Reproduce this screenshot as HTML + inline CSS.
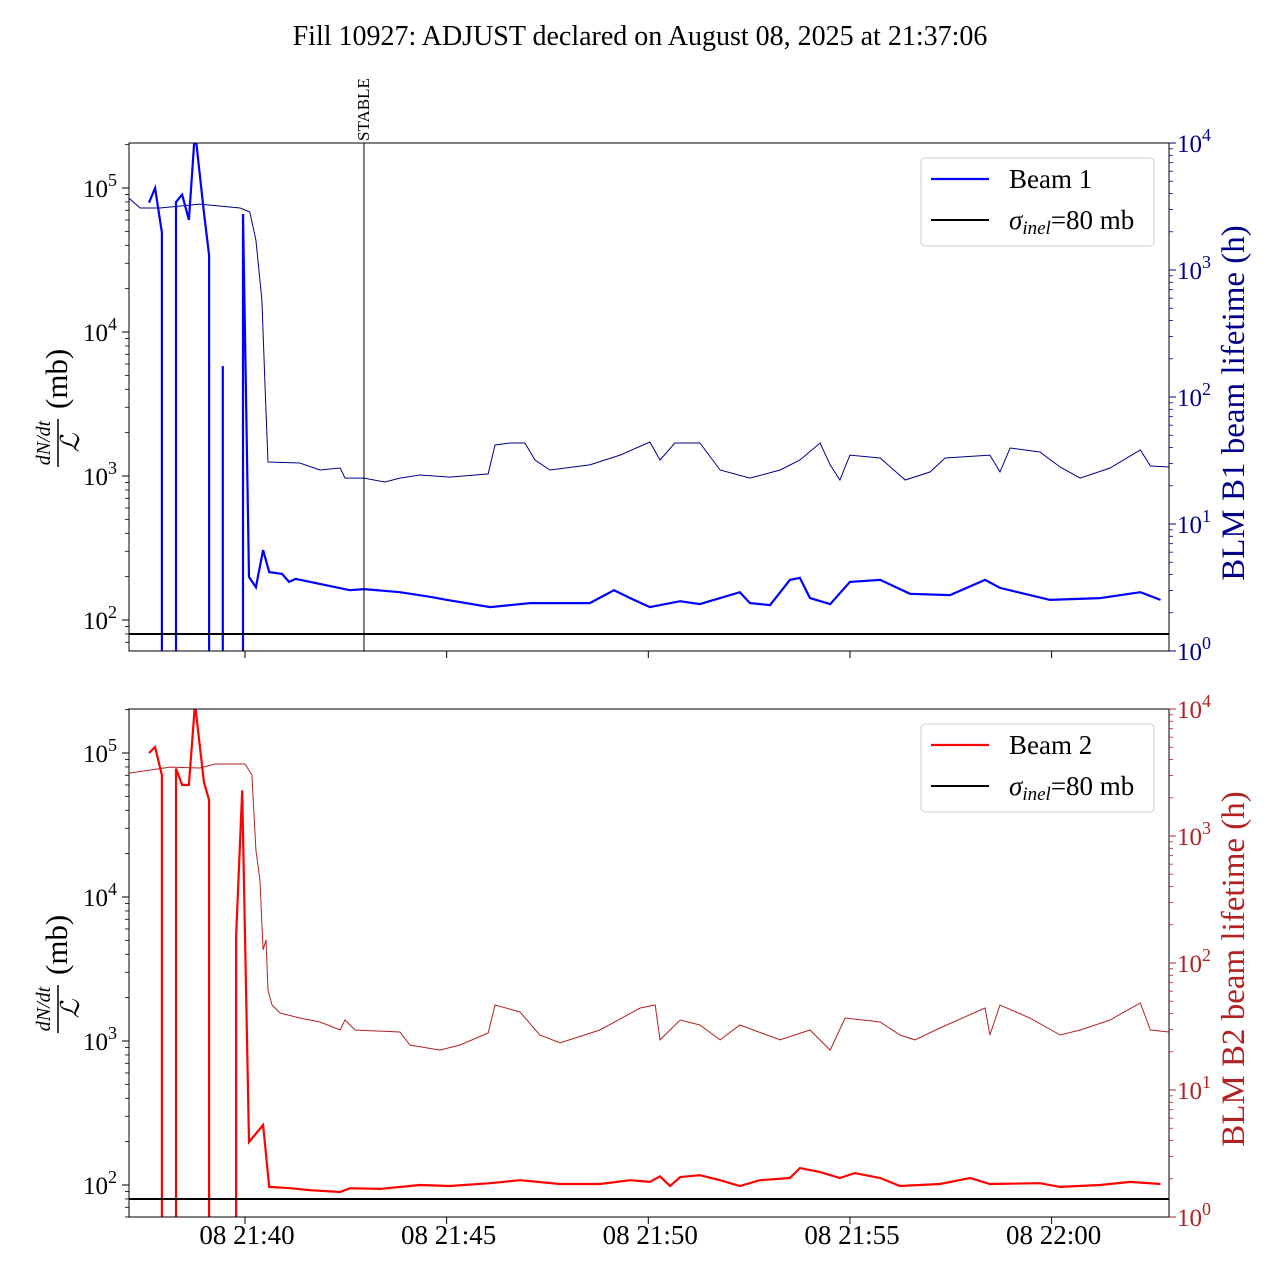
<!DOCTYPE html>
<html><head><meta charset="utf-8"><style>
body{margin:0;background:#fff}
svg{font-family:"Liberation Serif",serif}
</style></head><body>
<svg id="chart" width="1280" height="1280" viewBox="0 0 1280 1280" xmlns="http://www.w3.org/2000/svg">
<rect width="1280" height="1280" fill="#fff"/>
<text x="640" y="45" font-size="28" text-anchor="middle">Fill 10927: ADJUST declared on August 08, 2025 at 21:37:06</text>
<g id="plots"></g>
</svg>
<script>
// time in minutes after 21:37:00
const xTickMinutes = [3, 8, 13, 18, 23];
const xTickLabels = ["08 21:40", "08 21:45", "08 21:50", "08 21:55", "08 22:00"];
const stableMinute = 5.95;
const sigmaInel = 80;

const b1Times = [0.62,0.77,0.94,0.94,1.29,1.29,1.44,1.61,1.76,1.98,2.11,2.11,2.45,2.45,2.45,2.95,2.95,3.10,3.27,3.45,3.60,3.92,4.09,4.26,5.60,5.95,6.84,7.59,8.01,9.08,10.07,11.55,12.15,12.55,13.04,13.79,14.28,14.78,15.27,15.52,16.02,16.51,16.76,17.01,17.51,18.00,18.75,19.49,20.48,21.35,21.72,22.96,24.20,25.20,25.70];
const b1Values = [7.9e4,1.0e5,4.9e4,1,1,8e4,9e4,6e4,2.5e5,6.8e4,3.4e4,1,1,5.8e3,1,1,6.6e4,199,169,306,215,209,184,193,161,164,156,145,138,123,131,131,161,142,123,135,129,142,156,131,127,190,196,142,129,184,190,152,149,190,167,138,142,156,138];

const b1LifeTimes = [0.12,0.40,0.89,1.88,2.88,3.12,3.27,3.42,3.50,3.57,4.36,4.86,5.36,5.48,5.95,6.47,6.84,7.34,8.08,9.03,9.20,9.57,9.94,10.19,10.56,11.55,12.30,13.04,13.29,13.66,14.28,14.78,15.52,16.27,16.76,17.26,17.51,17.75,18.00,18.75,19.37,19.99,20.36,21.47,21.72,21.97,22.71,23.21,23.71,24.45,25.20,25.45,25.91];
const b1LifeValues = [3690,3080,3080,3300,3080,2860,1720,580,113,30.8,30.2,26.6,27.6,23,23,21.4,23,24.3,23.4,24.8,41.9,43.4,43.4,31.9,26.6,29.2,34.9,44.2,31.9,43.4,43.4,26.6,23,26.6,31.9,43.4,29.2,22.2,34.9,33.1,22.2,25.7,33.1,34.9,25.7,39.7,36.9,28.1,23,27.6,38.3,28.6,28.1];

const b2Times = [0.62,0.77,0.94,0.94,1.29,1.29,1.44,1.61,1.76,1.98,2.11,2.11,2.78,2.78,2.93,3.10,3.45,3.60,4.12,4.61,5.36,5.60,6.35,7.34,8.08,9.08,9.82,10.81,11.80,12.55,13.04,13.29,13.54,13.79,14.28,14.78,15.27,15.77,16.51,16.76,17.26,17.75,18.12,18.75,19.24,20.23,20.98,21.47,22.71,23.21,24.20,24.95,25.70];
const b2Values = [1e5,1.1e5,7e4,1,1,7.8e4,6e4,6e4,2.2e5,6.3e4,4.7e4,1,1,5.3e3,5.5e4,199,261,97,95,92,89.4,95,94,100,98.4,103,108,101.6,101.6,108,105,115,98.4,113.6,117,108,98.4,108,111.8,131,123,111.8,121,111.8,98.4,101.6,111.8,101.6,103,97,100,105,101.6];

const b2LifeTimes = [0.12,1.14,1.88,2.26,3.00,3.17,3.27,3.37,3.45,3.52,3.57,3.67,3.87,4.36,4.86,5.36,5.48,5.73,6.84,7.09,7.83,8.33,9.03,9.20,9.82,10.31,10.81,11.80,12.80,13.17,13.29,13.79,14.28,14.78,15.27,16.27,17.01,17.51,17.88,18.75,19.24,19.61,20.23,21.35,21.47,21.72,22.46,23.21,23.71,24.45,25.20,25.45,25.91];
const b2LifeValues = [3130,3490,3430,3690,3690,3020,776,451,127,152,61,46.7,40.4,36.9,34.3,29.7,35.6,29.7,28.6,22.6,20.6,22.6,28.1,46.7,41.1,27.1,23.5,29.7,44.2,46.7,24.8,35.6,32.5,24.8,32.5,24.8,29.7,20.6,36.9,34.3,27.1,24.8,30.8,44.2,27.1,46.7,36.9,27.1,29.7,35.6,48.4,29.7,28.6];

const NS = "http://www.w3.org/2000/svg";
const root = document.getElementById('plots');
function mk(tag, attrs, parent){const e=document.createElementNS(NS,tag);for(const k in attrs)e.setAttribute(k,attrs[k]);(parent||root).appendChild(e);return e;}

const X0=129, X1=1169;
function xs(t){return 245+(t-3)*40.33;}

function panel(cfg){
  const top=cfg.top, bot=top+508;
  const yL = v => cfg.y1e2 - (Math.log10(v)-2)*144;
  const yR = v => bot - Math.log10(v)*127;
  const g = mk('g',{});
  
  
  const cid='clip'+cfg.id;
  const cp=mk('clipPath',{id:cid},g); mk('rect',{x:X0,y:top,width:X1-X0,height:508},cp);
  let d=''; cfg.lt.forEach((t,i)=>{d+=(i?'L':'M')+xs(t).toFixed(1)+','+yR(cfg.lv[i]).toFixed(1);});
  const lp=mk('path',{d,fill:'none',stroke:cfg.lifeColor,'stroke-width':1,'clip-path':`url(#${cid})`},g);
  
  
  d=''; cfg.t.forEach((t,i)=>{d+=(i?'L':'M')+xs(t).toFixed(1)+','+Math.min(yL(cfg.v[i]),bot+5).toFixed(1);});
  const mp=mk('path',{d,fill:'none',stroke:cfg.color,'stroke-width':2.2,'clip-path':`url(#${cid})`},g);
  
  
  const sl=mk('line',{x1:X0,x2:X1,y1:yL(sigmaInel),y2:yL(sigmaInel),stroke:'#000','stroke-width':2},g);
  
  
  if(cfg.stable){
    const sx=xs(stableMinute);
    const s=mk('line',{x1:sx,x2:sx,y1:top,y2:bot,stroke:'#000','stroke-width':1},g);
    
    
    const st=mk('text',{x:0,y:0,'font-size':17,transform:`translate(${sx+5},${top-2}) rotate(-90)`},g);
    st.textContent='STABLE';
    
    
  }
  mk('rect',{x:X0,y:top,width:X1-X0,height:508,fill:'none',stroke:'#000','stroke-width':1},g);
  for(let e=1;e<=5;e++){for(let m=1;m<10;m++){const v=m*Math.pow(10,e);const y=yL(v);if(y<top-0.5||y>bot+0.5)continue;
    mk('line',{x1:X0,x2:X0-(m==1?7:4),y1:y,y2:y,stroke:'#000','stroke-width':m==1?1:0.8},g);
    if(m==1){const tx=mk('text',{x:X0-12,y:y+9,'font-size':25,'text-anchor':'end'},g);
      tx.innerHTML='10<tspan dy="-11" font-size="18">'+e+'</tspan>';
      }}}
  for(let e=0;e<=4;e++){for(let m=1;m<10;m++){const v=m*Math.pow(10,e);const y=yR(v);if(y<top-0.5)continue;
    mk('line',{x1:X1,x2:X1+(m==1?7:4),y1:y,y2:y,stroke:cfg.lifeColor,'stroke-width':m==1?1:0.8},g);
    if(m==1){const tx=mk('text',{x:X1+8,y:y+9,'font-size':25,fill:cfg.lifeColor},g);
      tx.innerHTML='10<tspan dy="-11" font-size="18">'+e+'</tspan>';
      }}}
  xTickMinutes.forEach((t,i)=>{const x=xs(t);mk('line',{x1:x,x2:x,y1:bot,y2:bot+7,stroke:'#000'},g);
    if(cfg.xlabels){const tx=mk('text',{x:x+2,y:bot+27,'font-size':27,'text-anchor':'middle'},g);tx.textContent=xTickLabels[i];
      }});
  const cy=top+254;
  const yl=mk('g',{transform:`translate(62,${cy+80}) rotate(-90)`},g);
  
  const n=mk('text',{x:34,y:-12,'font-size':20,'font-style':'italic','text-anchor':'middle'},yl);n.textContent='dN/dt';
  mk('line',{x1:10,x2:58,y1:-4,y2:-4,stroke:'#000','stroke-width':1.5},yl);
  const dn=mk('text',{x:34,y:17,'font-size':26,'font-style':'italic','text-anchor':'middle','font-family':'DejaVu Serif, serif'},yl);dn.textContent='ℒ';
  const mb=mk('text',{x:68,y:5,'font-size':31},yl);mb.textContent='(mb)';
  const rl=mk('text',{x:0,y:0,'font-size':33,fill:cfg.lifeColor,'text-anchor':'middle',transform:`translate(1244,${cy+6}) rotate(-90)`},g);
  rl.textContent=cfg.rightLabel;
  
  const lg=mk('g',{},g);
  
  mk('rect',{x:921,y:top+15,width:233,height:88,rx:4,fill:'#fff',stroke:'#ccc'},lg);
  mk('line',{x1:931,x2:989,y1:top+36,y2:top+36,stroke:cfg.color,'stroke-width':2.2},lg);
  const l1=mk('text',{x:1009,y:top+45,'font-size':27},lg);l1.textContent=cfg.legend;
  mk('line',{x1:931,x2:989,y1:top+77,y2:top+77,stroke:'#000','stroke-width':2},lg);
  const l2=mk('text',{x:1009,y:top+86,'font-size':27},lg);
  l2.innerHTML='<tspan font-style="italic">σ</tspan><tspan font-style="italic" font-size="19" dy="5">inel</tspan><tspan dy="-5">=80 mb</tspan>';
}
panel({id:'b1',name:'beam1-panel',top:143,y1e2:620,color:'#0000ff',lifeColor:'#00008b',t:b1Times,v:b1Values,lt:b1LifeTimes,lv:b1LifeValues,legend:'Beam 1',rightLabel:'BLM B1 beam lifetime (h)',stable:true,xlabels:false});
panel({id:'b2',name:'beam2-panel',top:709,y1e2:1185,color:'#ff0000',lifeColor:'#b22222',t:b2Times,v:b2Values,lt:b2LifeTimes,lv:b2LifeValues,legend:'Beam 2',rightLabel:'BLM B2 beam lifetime (h)',stable:false,xlabels:true});
</script>
</body></html>
